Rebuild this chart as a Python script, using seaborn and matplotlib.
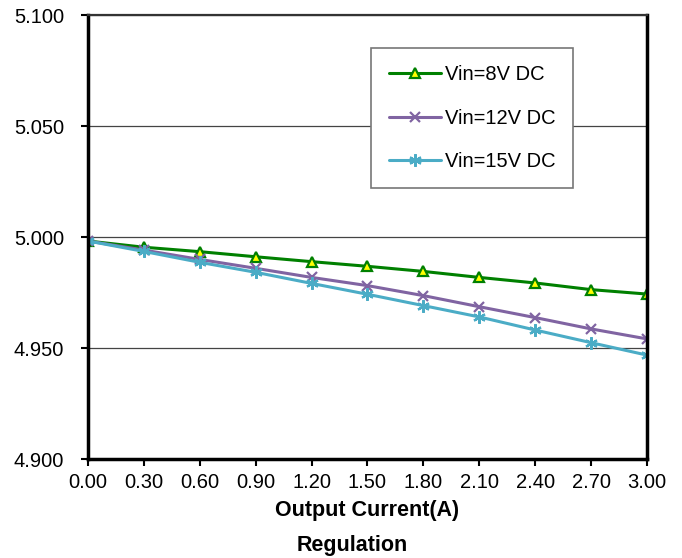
import matplotlib
matplotlib.use("Agg")
import matplotlib.pyplot as plt
import numpy as np
import pandas as pd
import seaborn as sns

# output current (A)
current = [0.00, 0.30, 0.60, 0.90, 1.20, 1.50, 1.80, 2.10, 2.40, 2.70, 3.00]
# output voltage for each input voltage
vin_8 = [4.9982, 4.9954, 4.9934, 4.9911, 4.9889, 4.9868, 4.9845, 4.9818, 4.9793, 4.9763, 4.9743]
vin_12 = [4.9982, 4.9941, 4.9899, 4.9859, 4.9818, 4.9781, 4.9736, 4.9686, 4.9637, 4.9586, 4.9541]
vin_15 = [4.9982, 4.9935, 4.9886, 4.9841, 4.9791, 4.9742, 4.9691, 4.9640, 4.9581, 4.9524, 4.9468]
labels = ['Vin=8V DC', 'Vin=12V DC', 'Vin=15V DC']
x_ticks = ['0.00', '0.30', '0.60', '0.90', '1.20', '1.50', '1.80', '2.10', '2.40', '2.70', '3.00']
y_ticks = ['4.900', '4.950', '5.000', '5.050', '5.100']

sns.set_style("white")
plt.rcParams['font.family'] = ['Liberation Sans', 'DejaVu Sans']
plt.rcParams['text.color'] = 'black'
plt.rcParams['axes.labelcolor'] = 'black'
plt.rcParams['xtick.color'] = 'black'
plt.rcParams['ytick.color'] = 'black'

fig = plt.figure(figsize=(6.82, 5.58), dpi=100)
ax = fig.add_axes([0.129, 0.1774, 0.8197, 0.7957])

# style per series: (line colour, marker, face colour, edge colour, marker size)
styles = [('#008000', '^', '#FFFF00', '#008000', 7),
          ('#8064A2', 'x', '#8064A2', '#8064A2', 7),
          ('#4BACC6', (6, 2, 0), '#4BACC6', '#4BACC6', 9)]

for vals, lab, st in zip([vin_8, vin_12, vin_15], labels, styles):
    df = pd.DataFrame({'current': current, 'voltage': vals})
    sns.lineplot(data=df, x='current', y='voltage', ax=ax, label=lab,
                 color=st[0], marker=st[1], markerfacecolor=st[2],
                 markeredgecolor=st[3], markersize=st[4], markeredgewidth=1.6,
                 linewidth=2.2)

ax.set_xlim(0, 3.0)
ax.set_ylim(4.9, 5.1)
ax.set_xticks([float(t) for t in x_ticks])
ax.set_xticklabels(x_ticks)
ax.set_yticks([float(t) for t in y_ticks])
ax.set_yticklabels(y_ticks)
ax.tick_params(axis='both', labelsize=14.5, length=5, width=1.5, direction='out',
               bottom=True, left=True, pad=5)
ax.tick_params(axis='y', pad=12)

ax.yaxis.grid(True, color='#444444', linewidth=0.9)
ax.xaxis.grid(False)

for side in ['left', 'right', 'bottom']:
    ax.spines[side].set_color('black')
    ax.spines[side].set_linewidth(2.5)
ax.spines['top'].set_color('#333333')
ax.spines['top'].set_linewidth(1.6)

ax.set_xlabel('Output Current(A)', fontsize=15.5, fontweight='bold', labelpad=6)
ax.set_ylabel('')
fig.text(0.5165, 0.012, 'Regulation', fontsize=15.5, fontweight='bold', ha='center')

leg = ax.legend(loc='upper left', bbox_to_anchor=(0.507, 0.925), fontsize=14.5,
                frameon=True, fancybox=False, framealpha=1, edgecolor='#777777',
                handlelength=2.6, labelspacing=1.2, borderpad=0.85,
                handletextpad=0.2, borderaxespad=0)
leg.get_frame().set_linewidth(1.2)

fig.savefig('out.png', dpi=100)
